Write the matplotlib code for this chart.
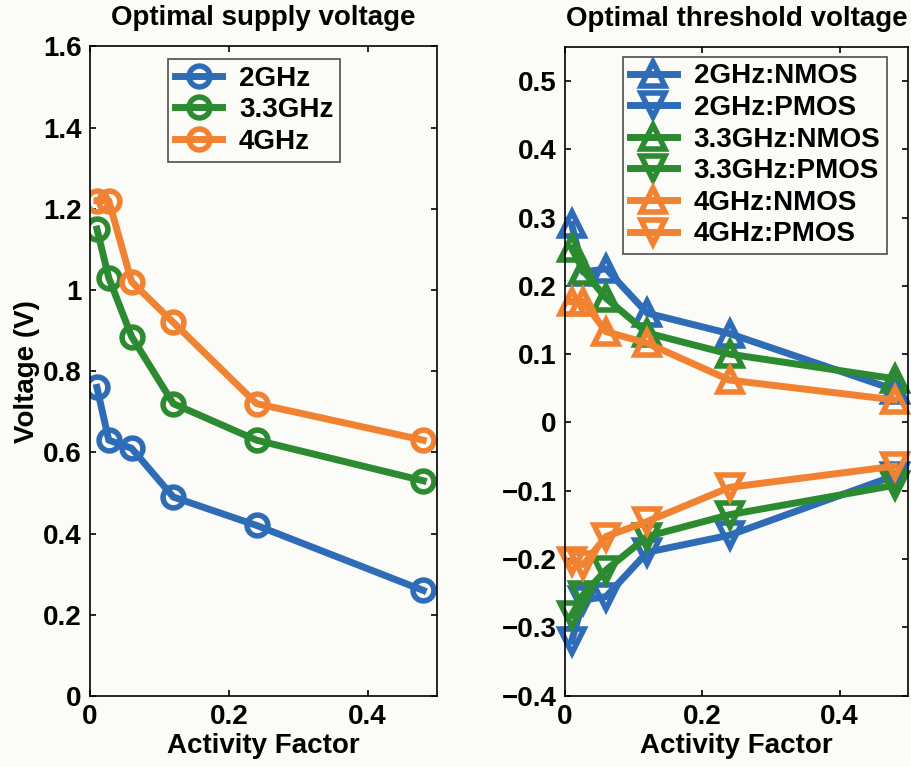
import numpy as np
import matplotlib.pyplot as plt

# activity factor (x) shared by all curves
activity = [0.01, 0.027, 0.06, 0.12, 0.24, 0.48]

# optimal supply voltage (V)
vdd_labels = ['2GHz', '3.3GHz', '4GHz']
vdd_2ghz = [0.76, 0.63, 0.61, 0.49, 0.42, 0.26]
vdd_33ghz = [1.15, 1.03, 0.885, 0.72, 0.63, 0.53]
vdd_4ghz = [1.22, 1.22, 1.02, 0.92, 0.72, 0.63]

# optimal threshold voltage (V)
vth_labels = ['2GHz:NMOS', '2GHz:PMOS', '3.3GHz:NMOS', '3.3GHz:PMOS', '4GHz:NMOS', '4GHz:PMOS']
vth_2ghz_n = [0.29, 0.22, 0.225, 0.16, 0.13, 0.048]
vth_2ghz_p = [-0.32, -0.26, -0.255, -0.19, -0.165, -0.078]
vth_33ghz_n = [0.255, 0.222, 0.182, 0.131, 0.10, 0.064]
vth_33ghz_p = [-0.282, -0.252, -0.216, -0.167, -0.135, -0.092]
vth_4ghz_n = [0.177, 0.177, 0.133, 0.116, 0.062, 0.033]
vth_4ghz_p = [-0.203, -0.208, -0.167, -0.145, -0.095, -0.064]

blue = '#2f6cb8'
green = '#2c8a30'
orange = '#f08232'
bg = '#fbfbf7'
fs = 20

plt.rcParams['font.family'] = ['Liberation Sans', 'DejaVu Sans']
plt.rcParams['font.weight'] = 'bold'
plt.rcParams['font.size'] = fs

fig = plt.figure(figsize=(9.11, 7.67), dpi=100, facecolor=bg)
ax1 = fig.add_axes([0.0988, 0.0926, 0.381, 0.847])
ax2 = fig.add_axes([0.620, 0.0930, 0.377, 0.846])

lw = 5
for ax in (ax1, ax2):
    ax.set_facecolor(bg)
    ax.tick_params(direction='in', top=True, right=True, length=4.5, width=1.2,
                   labelsize=fs, pad=6)
    for s in ax.spines.values():
        s.set_linewidth(1.2)
    ax.set_xlim(0, 0.5)
    ax.set_xticks([0, 0.2, 0.4])
    ax.set_xticklabels(['0', '0.2', '0.4'])
    ax.set_xlabel('Activity Factor', fontsize=fs, fontweight='bold', labelpad=2)

# left: supply voltage
for y, c, lab in zip([vdd_2ghz, vdd_33ghz, vdd_4ghz], [blue, green, orange], vdd_labels):
    ax1.plot(activity, y, color=c, lw=lw, marker='o', ms=15, mfc='none', mew=4, label=lab)
ax1.set_ylim(0, 1.6)
ax1.set_yticks(np.arange(0, 1.61, 0.2))
ax1.set_yticklabels(['0', '0.2', '0.4', '0.6', '0.8', '1', '1.2', '1.4', '1.6'])
ax1.set_ylabel('Voltage (V)', fontsize=fs, fontweight='bold', labelpad=2)
ax1.set_title('Optimal supply voltage', fontsize=fs, fontweight='bold', pad=15)
leg1 = ax1.legend(loc='upper left', bbox_to_anchor=(0.225, 0.981), fontsize=fs,
                  handlelength=1.7, frameon=True, fancybox=False, edgecolor='#222222',
                  borderpad=0.25, labelspacing=0.2, handletextpad=0.6, borderaxespad=0)
leg1.get_frame().set_linewidth(1.2)
leg1.get_frame().set_facecolor(bg)

# right: threshold voltage
series = [vth_2ghz_n, vth_2ghz_p, vth_33ghz_n, vth_33ghz_p, vth_4ghz_n, vth_4ghz_p]
colors = [blue, blue, green, green, orange, orange]
markers = ['^', 'v', '^', 'v', '^', 'v']
for y, c, m, lab in zip(series, colors, markers, vth_labels):
    ax2.plot(activity, y, color=c, lw=lw, marker=m, ms=17, mfc='none', mew=4,
             label=lab, clip_on=False)
ax2.set_ylim(-0.4, 0.55)
ax2.set_yticks(np.arange(-0.4, 0.51, 0.1))
ax2.set_yticklabels(['\u22120.4', '\u22120.3', '\u22120.2', '\u22120.1', '0',
                     '0.1', '0.2', '0.3', '0.4', '0.5'])
ax2.set_title('Optimal threshold voltage', fontsize=fs, fontweight='bold', pad=15)
leg2 = ax2.legend(loc='upper left', bbox_to_anchor=(0.169, 0.985), fontsize=fs,
                  handlelength=1.7, frameon=True, fancybox=False, edgecolor='#222222',
                  borderpad=0.25, labelspacing=0.2, handletextpad=0.6, borderaxespad=0)
leg2.get_frame().set_linewidth(1.2)
leg2.get_frame().set_facecolor(bg)

fig.savefig('out.png', dpi=100, facecolor=bg)
